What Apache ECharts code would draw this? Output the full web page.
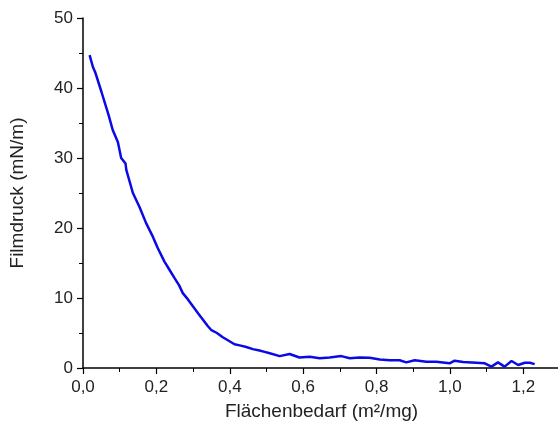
<!DOCTYPE html>
<html>
<head>
<meta charset="utf-8">
<script src="https://cdn.jsdelivr.net/npm/echarts@6/dist/echarts.min.js"></script>
<style>
html,body{margin:0;padding:0;background:#fff;}
#chart{width:558px;height:425px;}
</style>
</head>
<body>
<div id="chart"></div>
<script>
// Flächenbedarf (m²/mg)
var area = [0.018, 0.027, 0.033, 0.050, 0.070, 0.081, 0.095, 0.104, 0.116, 0.118, 0.136, 0.154, 0.172, 0.190, 0.204, 0.222,
	0.236, 0.250, 0.262, 0.272, 0.286, 0.300, 0.314, 0.327, 0.340, 0.350, 0.365, 0.381, 0.397, 0.413, 0.430, 0.445,
	0.463, 0.481, 0.495, 0.509, 0.536, 0.563, 0.590, 0.618, 0.645, 0.672,
	0.704, 0.727, 0.754, 0.781, 0.809, 0.836, 0.863, 0.881, 0.904, 0.936, 0.963, 0.999, 1.013, 1.036, 1.072, 1.095,
	1.113, 1.131, 1.149, 1.168, 1.186, 1.204, 1.218, 1.231];
// Filmdruck (mN/m)
var pressure = [44.7, 43.0, 42.3, 39.5, 36.1, 34.0, 32.3, 30.0, 29.2, 28.3, 25.0, 23.0, 20.7, 18.8, 17.1, 15.2,
	14.0, 12.8, 11.8, 10.7, 9.8, 8.8, 7.8, 6.9, 6.0, 5.4, 5.0, 4.4, 3.9, 3.4, 3.2, 3.0,
	2.7, 2.5, 2.3, 2.1, 1.7, 2.0, 1.5, 1.6, 1.4, 1.5,
	1.7, 1.4, 1.5, 1.45, 1.2, 1.1, 1.1, 0.8, 1.1, 0.9, 0.9, 0.67, 1.05, 0.85, 0.75, 0.67,
	0.2, 0.8, 0.2, 1.0, 0.43, 0.75, 0.75, 0.55];

var points = [];
for (var i = 0; i < area.length; i++) {
	points.push([area[i], pressure[i]]);
}

var myChart = echarts.init(document.getElementById('chart'));
var font = 'Liberation Sans, Arial, sans-serif';

var option = {
	animation: false,
	grid: {left: 83, top: 18, width: 477, height: 350, outerBoundsMode: 'none', containLabel: false},
	xAxis: {
		type: 'value',
		min: 0, max: 1.3, interval: 0.2,
		name: 'Flächenbedarf (m²/mg)',
		nameLocation: 'middle',
		nameGap: 34,
		nameTextStyle: {color: '#222', fontSize: 19, fontFamily: font},
		splitLine: {show: false},
		axisLine: {lineStyle: {color: '#000', width: 1.5}},
		axisTick: {show: true, length: 6, lineStyle: {color: '#000', width: 1.2}},
		minorTick: {show: true, splitNumber: 2, length: 4, lineStyle: {color: '#000', width: 1}},
		axisLabel: {
			color: '#222', fontSize: 17, fontFamily: font, margin: 11,
			showMaxLabel: false,
			formatter: function (v) { return v.toFixed(1).replace('.', ','); }
		}
	},
	yAxis: {
		type: 'value',
		min: 0, max: 50, interval: 10,
		name: 'Filmdruck (mN/m)',
		nameLocation: 'middle',
		nameGap: 56,
		nameTextStyle: {color: '#222', fontSize: 19, fontFamily: font},
		splitLine: {show: false},
		axisLine: {show: true, lineStyle: {color: '#000', width: 1.5}},
		axisTick: {show: true, length: 6, lineStyle: {color: '#000', width: 1.2}},
		minorTick: {show: true, splitNumber: 2, length: 4, lineStyle: {color: '#000', width: 1}},
		axisLabel: {color: '#222', fontSize: 17, fontFamily: font, margin: 10}
	},
	series: [{
		type: 'line',
		data: points,
		showSymbol: false,
		lineStyle: {color: '#0a0ae6', width: 2.5}
	}]
};
myChart.setOption(option);
</script>
</body>
</html>
